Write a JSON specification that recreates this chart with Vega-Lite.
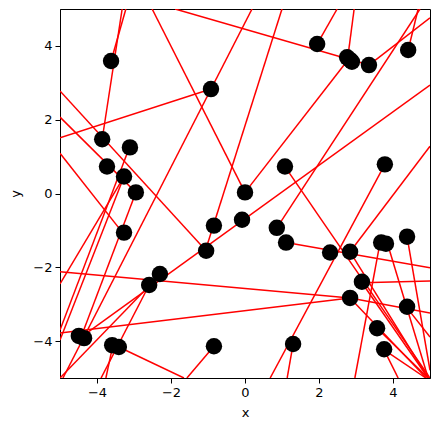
{
  "$schema": "https://vega.github.io/schema/vega-lite/v6.json",
  "width": 370,
  "height": 369,
  "autosize": {"type": "none"},
  "padding": {"left": 60, "top": 9, "right": 9, "bottom": 54},
  "background": "white",
  "config": {
    "view": {"stroke": "black", "strokeWidth": 1},
    "axis": {
      "grid": false,
      "domainColor": "black",
      "tickColor": "black",
      "tickSize": 5,
      "labelFont": "DejaVu Sans",
      "labelFontSize": 13,
      "labelColor": "black",
      "titleFont": "DejaVu Sans",
      "titleFontSize": 13,
      "titleFontWeight": "normal",
      "titleColor": "black",
      "labelPadding": 3
    }
  },
  "datasets": {
    "segments": [
      {"x1": -3.86, "y1": 1.47, "x2": -3.32, "y2": 5.0},
      {"x1": -3.62, "y1": 3.59, "x2": -3.22, "y2": 5.0},
      {"x1": 0.0, "y1": 0.03, "x2": -2.51, "y2": 5.0},
      {"x1": -1.89, "y1": 5.0, "x2": 3.35, "y2": 3.48},
      {"x1": -4.92, "y1": -5.0, "x2": 0.19, "y2": 5.0},
      {"x1": 1.0, "y1": 5.0, "x2": -1.08, "y2": -1.58},
      {"x1": -5.0, "y1": 1.51, "x2": -0.92, "y2": 2.83},
      {"x1": 1.95, "y1": 4.05, "x2": 2.49, "y2": 5.0},
      {"x1": 2.78, "y1": 3.7, "x2": 2.95, "y2": 5.0},
      {"x1": 4.41, "y1": 3.89, "x2": 4.68, "y2": 5.0},
      {"x1": 0.86, "y1": -0.93, "x2": 4.73, "y2": 5.0},
      {"x1": 3.35, "y1": 3.48, "x2": 5.0, "y2": 4.76},
      {"x1": 0.0, "y1": 0.03, "x2": 2.76, "y2": 3.59},
      {"x1": -4.43, "y1": -3.89, "x2": 5.0, "y2": 2.94},
      {"x1": -5.0, "y1": 2.78, "x2": -1.05, "y2": -1.55},
      {"x1": -5.0, "y1": 2.07, "x2": -2.95, "y2": 0.03},
      {"x1": -5.0, "y1": 1.09, "x2": -3.31, "y2": -1.06},
      {"x1": -3.12, "y1": 1.26, "x2": -5.0, "y2": -3.7},
      {"x1": -5.0, "y1": -2.12, "x2": 2.84, "y2": -2.83},
      {"x1": -5.0, "y1": -3.78, "x2": 2.84, "y2": -2.83},
      {"x1": 2.84, "y1": -2.83, "x2": 5.0, "y2": -3.24},
      {"x1": 1.08, "y1": 0.73, "x2": 5.0, "y2": -5.0},
      {"x1": 3.78, "y1": 0.79, "x2": 0.68, "y2": -5.0},
      {"x1": 5.0, "y1": 1.28, "x2": 2.84, "y2": -1.58},
      {"x1": 1.11, "y1": -1.33, "x2": 5.0, "y2": -2.01},
      {"x1": 3.16, "y1": -2.42, "x2": 5.0, "y2": -2.37},
      {"x1": 3.65, "y1": -1.33, "x2": 2.97, "y2": -5.0},
      {"x1": 3.86, "y1": -1.39, "x2": 4.95, "y2": -5.0},
      {"x1": 4.38, "y1": -1.17, "x2": 5.0, "y2": -4.79},
      {"x1": 4.38, "y1": -3.1, "x2": 5.0, "y2": -3.89},
      {"x1": 3.57, "y1": -3.65, "x2": 4.95, "y2": -5.0},
      {"x1": 3.76, "y1": -4.24, "x2": 4.14, "y2": -5.0},
      {"x1": 3.76, "y1": -4.24, "x2": 4.89, "y2": -5.0},
      {"x1": 3.16, "y1": -2.42, "x2": 4.95, "y2": -5.0},
      {"x1": 2.84, "y1": -1.58, "x2": 4.95, "y2": -5.0},
      {"x1": -0.84, "y1": -4.14, "x2": -1.57, "y2": -5.0},
      {"x1": 1.3, "y1": -4.08, "x2": 1.14, "y2": -5.0},
      {"x1": -3.41, "y1": -4.16, "x2": -1.65, "y2": -5.0},
      {"x1": -3.27, "y1": 0.46, "x2": -5.0, "y2": -2.45},
      {"x1": -3.27, "y1": 0.46, "x2": -5.0, "y2": -3.97},
      {"x1": -2.95, "y1": 0.03, "x2": -4.43, "y2": -3.89},
      {"x1": -5.0, "y1": -5.0, "x2": -2.3, "y2": -2.2},
      {"x1": -3.89, "y1": -5.0, "x2": -2.59, "y2": -2.48},
      {"x1": -3.76, "y1": -5.0, "x2": -3.57, "y2": -4.11},
      {"x1": 2.84, "y1": -2.83, "x2": 4.9, "y2": -5.0}
    ],
    "points": [
      {"x": -3.62, "y": 3.59}, {"x": -0.92, "y": 2.83}, {"x": -3.86, "y": 1.47},
      {"x": -3.11, "y": 1.25}, {"x": -3.73, "y": 0.73}, {"x": -3.27, "y": 0.46},
      {"x": -2.95, "y": 0.03}, {"x": 0.0, "y": 0.03}, {"x": 1.95, "y": 4.05},
      {"x": 2.76, "y": 3.69}, {"x": 2.89, "y": 3.57}, {"x": 2.84, "y": 3.62},
      {"x": 3.35, "y": 3.48}, {"x": 4.41, "y": 3.89}, {"x": 3.78, "y": 0.79},
      {"x": 1.08, "y": 0.73}, {"x": -3.27, "y": -1.06}, {"x": -0.84, "y": -0.87},
      {"x": -0.08, "y": -0.71}, {"x": 0.86, "y": -0.93}, {"x": 1.11, "y": -1.33},
      {"x": -1.05, "y": -1.55}, {"x": 2.3, "y": -1.6}, {"x": 2.84, "y": -1.58},
      {"x": 3.68, "y": -1.33}, {"x": 3.81, "y": -1.36}, {"x": 4.38, "y": -1.17},
      {"x": 3.16, "y": -2.39}, {"x": 2.84, "y": -2.83}, {"x": -2.3, "y": -2.18},
      {"x": -2.59, "y": -2.48}, {"x": -4.49, "y": -3.86}, {"x": -4.35, "y": -3.92},
      {"x": -3.59, "y": -4.11}, {"x": -3.41, "y": -4.16}, {"x": -0.84, "y": -4.14},
      {"x": 1.3, "y": -4.08}, {"x": 3.57, "y": -3.65}, {"x": 3.76, "y": -4.22},
      {"x": 4.38, "y": -3.07}
    ]
  },
  "layer": [
    {
      "data": {"name": "segments"},
      "mark": {"type": "rule", "color": "red", "strokeWidth": 1.5, "clip": true},
      "encoding": {
        "x": {"field": "x1", "type": "quantitative", "scale": {"domain": [-5, 5], "nice": false, "zero": false},
              "axis": {"values": [-4, -2, 0, 2, 4], "title": "x", "titlePadding": 7}},
        "y": {"field": "y1", "type": "quantitative", "scale": {"domain": [-5, 5], "nice": false, "zero": false},
              "axis": {"values": [-4, -2, 0, 2, 4], "title": "y", "titlePadding": 10}},
        "x2": {"field": "x2"},
        "y2": {"field": "y2"}
      }
    },
    {
      "data": {"name": "points"},
      "mark": {"type": "circle", "color": "black", "opacity": 1, "size": 270, "clip": true},
      "encoding": {
        "x": {"field": "x", "type": "quantitative"},
        "y": {"field": "y", "type": "quantitative"}
      }
    }
  ]
}
